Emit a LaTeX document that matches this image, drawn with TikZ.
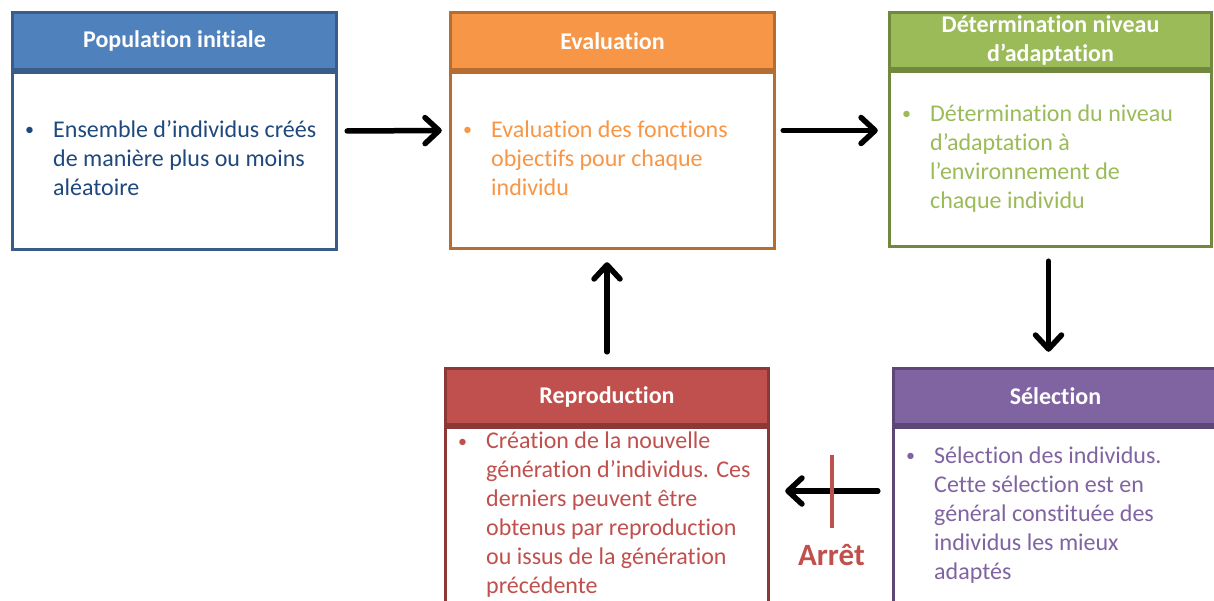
\documentclass[tikz,border=0pt]{standalone}
\usepackage{fontspec}
\setmainfont{Carlito}[Ligatures=NoCommon]
\usetikzlibrary{arrows.meta,fit,calc}
\definecolor{bluehd}{HTML}{4F81BD}\definecolor{bluebd}{HTML}{385D8A}\definecolor{bluetx}{HTML}{1F497D}
\definecolor{orahd}{HTML}{F79646}\definecolor{orabd}{HTML}{B66D31}\definecolor{oratx}{HTML}{F79646}
\definecolor{grehd}{HTML}{9BBB59}\definecolor{grebd}{HTML}{71893F}\definecolor{gretx}{HTML}{9BBB59}
\definecolor{redhd}{HTML}{C0504D}\definecolor{redbd}{HTML}{8C3836}\definecolor{redtx}{HTML}{C0504D}
\definecolor{purhd}{HTML}{8064A2}\definecolor{purbd}{HTML}{5C4776}\definecolor{purtx}{HTML}{8064A2}
\newcommand{\blt}{\makebox[27pt][l]{\hspace{-1pt}\raisebox{1.8pt}{\scalebox{0.75}{•}}}}
\tikzset{
  hdr/.style={rectangle, line width=3pt, anchor=north west, inner sep=0pt, text=white,
    font=\fontsize{24}{29}\selectfont\bfseries, align=center},
  bodybox/.style={rectangle, line width=3pt, anchor=north west, inner sep=0pt, fill=white},
  bodytext/.style={anchor=west, inner sep=0pt, font=\fontsize{24}{29}\selectfont},
  framebox/.style={inner sep=0pt, draw=none},
  arr/.style={line width=5.5pt, line cap=round, -{Straight Barb[length=14pt,width=26pt,round]},
    preaction={draw=black!22, transform canvas={xshift=1.5pt,yshift=-2pt}}},
}
\begin{document}
\begin{tikzpicture}[x=1pt,y=-1pt]
\useasboundingbox (0,0) rectangle (1214,601);
% Box 1
\node[hdr, fill=bluehd, draw=bluebd, minimum width=324pt, minimum height=57pt] (h1) at (11,11) {Population initiale};
\node[bodybox, draw=bluebd, minimum width=324pt, minimum height=177pt] (b1) at (h1.south west) {};
\node[bodytext, text=bluetx] (t1) at ([xshift=15pt]b1.west) {\begin{tabular}{@{}l@{}l@{}}\blt & Ensemble d’individus créés\\ & de manière plus ou moins\\ & aléatoire\end{tabular}};
\node[framebox, fit=(h1)(b1)] (box1) {};
% Box 2
\node[hdr, fill=orahd, draw=orabd, minimum width=324pt, minimum height=57pt] (h2) at (449,11) {Evaluation};
\node[bodybox, draw=orabd, minimum width=324pt, minimum height=176pt] (b2) at (h2.south west) {};
\node[bodytext, text=oratx] (t2) at ([xshift=15pt]b2.west) {\begin{tabular}{@{}l@{}l@{}}\blt & Evaluation des fonctions\\ & objectifs pour chaque\\ & individu\end{tabular}};
\node[framebox, fit=(h2)(b2)] (box2) {};
% Box 3
\node[hdr, fill=grehd, draw=grebd, minimum width=322pt, minimum height=56pt] (h3) at (888,11) {Détermination niveau\\d’adaptation};
\node[bodybox, draw=grebd, minimum width=322pt, minimum height=175pt] (b3) at (h3.south west) {};
\node[bodytext, text=gretx] (t3) at ([xshift=15pt]b3.west) {\begin{tabular}{@{}l@{}l@{}}\blt & Détermination du niveau\\ & d’adaptation à\\ & l’environnement de\\ & chaque individu\end{tabular}};
\node[framebox, fit=(h3)(b3)] (box3) {};
% Box 4
\node[hdr, fill=redhd, draw=redbd, minimum width=323pt, minimum height=56pt] (h4) at (444,367) {Reproduction};
\node[bodybox, draw=redbd, minimum width=323pt, minimum height=176pt] (b4) at (h4.south west) {};
\node[bodytext, text=redtx] (t4) at ([xshift=15pt]b4.west) {\begin{tabular}{@{}l@{}l@{}}\blt & Création de la nouvelle\\ & génération d’individus. Ces\\ & derniers peuvent être\\ & obtenus par reproduction\\ & ou issus de la génération\\ & précédente\end{tabular}};
\node[framebox, fit=(h4)(b4)] (box4) {};
% Box 5
\node[hdr, fill=purhd, draw=purbd, minimum width=324pt, minimum height=56pt] (h5) at (892,367) {Sélection};
\node[bodybox, draw=purbd, minimum width=324pt, minimum height=176pt] (b5) at (h5.south west) {};
\node[bodytext, text=purtx] (t5) at ([xshift=15pt]b5.west) {\begin{tabular}{@{}l@{}l@{}}\blt & Sélection des individus.\\ & Cette sélection est en\\ & général constituée des\\ & individus les mieux\\ & adaptés\end{tabular}};
\node[framebox, fit=(h5)(b5)] (box5) {};
% Arrows
\draw[arr] ([xshift=9pt]box1.east) -- ([xshift=-7pt]box2.west);
\draw[arr] ([xshift=7pt]box2.east) -- ([xshift=-10pt]box3.west |- box2.east);
\coordinate (a3s) at ([xshift=-2pt,yshift=-13pt]box3.south);
\draw[arr] (a3s) -- ([yshift=15pt]a3s |- box5.north);
\draw[arr] ([yshift=15pt]box4.north) -- ([yshift=-12pt]box4.north |- box2.south);
\coordinate (a5s) at ([xshift=-14pt,yshift=-5pt]box5.west);
\coordinate (a5e) at ([xshift=15pt,yshift=-5pt]box4.east);
\draw[arr] (a5s) -- (a5e);
\node[fill=redhd, minimum width=4pt, minimum height=73pt, inner sep=0pt] (bar) at ($(a5s)!0.5!(a5e)$) {};
\node[text=redtx, font=\fontsize{31}{36}\selectfont\bfseries, inner sep=0pt] (stop) at ([yshift=-64pt]bar.center) {Arrêt};
\end{tikzpicture}
\end{document}
